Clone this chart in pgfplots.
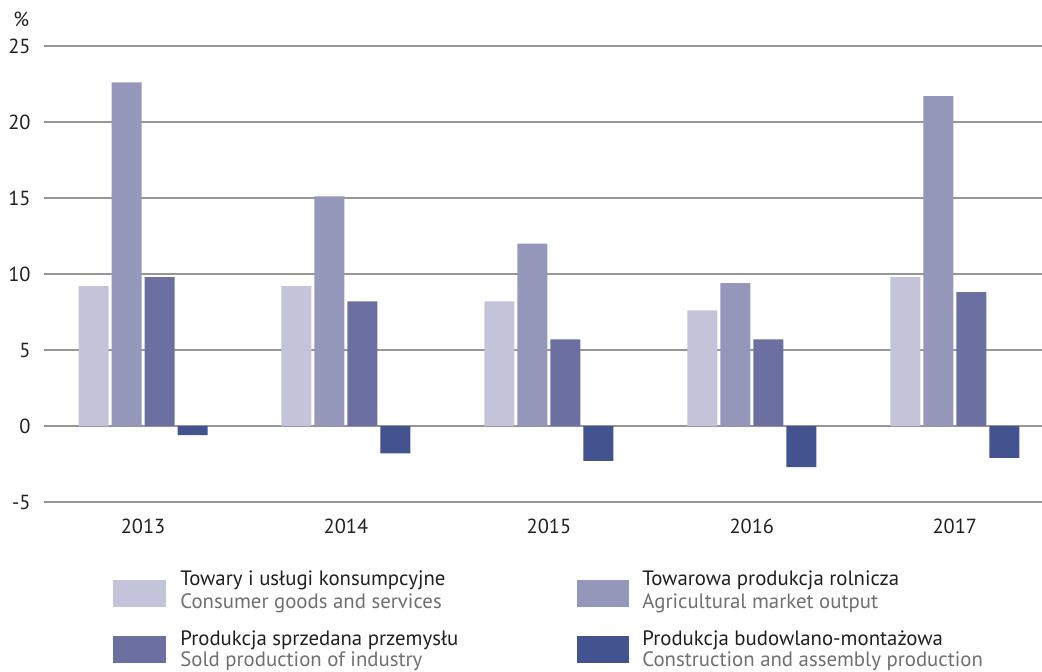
\documentclass[border=0pt]{standalone}
\usepackage{pgfplots}
\pgfplotsset{compat=1.18}
\usepackage{fontspec}
\setmainfont{PT Sans}
\definecolor{cA}{RGB}{195,196,217}
\definecolor{cB}{RGB}{148,150,186}
\definecolor{cC}{RGB}{107,112,160}
\definecolor{cD}{RGB}{67,83,143}
\definecolor{gridc}{RGB}{150,150,150}
\definecolor{txt}{RGB}{35,31,32}
\definecolor{txtg}{RGB}{110,111,114}
\begin{document}
\begin{tikzpicture}
\useasboundingbox (0,0) rectangle (521pt,335.5pt);
\begin{axis}[
  at={(22pt,84.5pt)}, anchor=south west,
  scale only axis, width=499pt, height=228pt,
  xmin=-0.488, xmax=4.43, ymin=-5, ymax=25,
  ytick={-5,0,5,10,15,20,25},
  xtick={0,1,2,3,4}, xticklabels={2013,2014,2015,2016,2017},
  ybar=1.5pt, bar width=15pt,
  axis line style={draw=none}, major tick length=0pt,
  ymajorgrids, grid style={gridc, line width=0.6pt},
  ticklabel style={font=\fontsize{10.2}{12}\selectfont, text=txt},
  yticklabel style={xshift=-3.2pt},
  xticklabel style={yshift=-4.7pt},
  /pgf/number format/assume math mode=true,
  clip=false,
]
\addplot[fill=cA, draw=none] coordinates {(0,9.2) (1,9.2) (2,8.2) (3,7.6) (4,9.8)};
\addplot[fill=cB, draw=none] coordinates {(0,22.6) (1,15.1) (2,12.0) (3,9.4) (4,21.7)};
\addplot[fill=cC, draw=none] coordinates {(0,9.8) (1,8.2) (2,5.7) (3,5.7) (4,8.8)};
\addplot[fill=cD, draw=none] coordinates {(0,-0.6) (1,-1.8) (2,-2.3) (3,-2.7) (4,-2.1)};
\end{axis}
\node[anchor=base west, inner sep=0, text=txt, font=\fontsize{10.2}{12}\selectfont] at (6.5pt,322pt) {\%};
\begin{scope}[font=\fontsize{10.4}{12}\selectfont, every node/.style={anchor=base west, inner sep=0}]
\fill[cA] (56.5pt,32pt) rectangle (83pt,45.5pt);
\node[text=txt] at (90pt,42.65pt) {Towary i usługi konsumpcyjne};
\node[text=txtg] at (90pt,31.35pt) {Consumer goods and services};
\fill[cB] (288.5pt,32pt) rectangle (314.5pt,45.5pt);
\node[text=txt] at (321pt,42.65pt) {Towarowa produkcja rolnicza};
\node[text=txtg] at (321pt,31.35pt) {Agricultural market output};
\fill[cC] (56.5pt,4pt) rectangle (83pt,17.5pt);
\node[text=txt] at (90pt,12.6pt) {Produkcja sprzedana przemysłu};
\node[text=txtg] at (90pt,2.3pt) {Sold production of industry};
\fill[cD] (288.5pt,4pt) rectangle (314.5pt,17.5pt);
\node[text=txt] at (321pt,12.6pt) {Produkcja budowlano-montażowa};
\node[text=txtg] at (321pt,2.3pt) {Construction and assembly production};
\end{scope}
\end{tikzpicture}
\end{document}
